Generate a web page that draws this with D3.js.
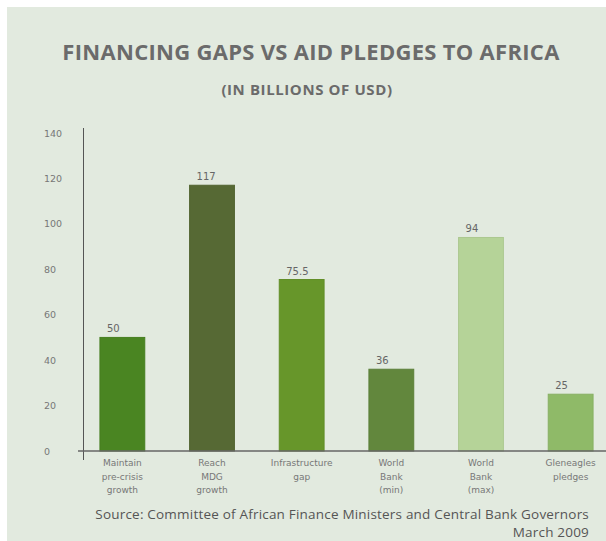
<!DOCTYPE html>
<html>
<head>
<meta charset="utf-8">
<script src="https://cdn.jsdelivr.net/npm/d3@7"></script>
<style>
  body { margin: 0; background: #fff; }
  svg { display: block; }
</style>
</head>
<body>
<div class="chartContainer"></div>
<script>
// chart data
var categories = ['Maintain pre-crisis growth', 'Reach MDG growth', 'Infrastructure gap',
                  'World Bank (min)', 'World Bank (max)', 'Gleneagles pledges'];
var catLines = [
    ['Maintain', 'pre-crisis', 'growth'],
    ['Reach', 'MDG', 'growth'],
    ['Infrastructure', 'gap'],
    ['World', 'Bank', '(min)'],
    ['World', 'Bank', '(max)'],
    ['Gleneagles', 'pledges']
];
var values = [50, 117, 75.5, 36, 94, 25];
var valueLabels = ['50', '117', '75.5', '36', '94', '25'];
var barColours = ['#4a8522', '#566934', '#67962a', '#62873d', '#b5d398', '#8fba68'];
var yTicks = [0, 20, 40, 60, 80, 100, 120, 140];

var width = 606;
var height = 541;

var svg = d3.select('.chartContainer')
            .append('svg')
              .attr('width', width)
              .attr('height', height);

// pale green panel
svg.append('rect')
    .attr('x', 7)
    .attr('y', 7)
    .attr('width', width - 7)
    .attr('height', height - 7)
    .attr('fill', '#e2eadf');

// titles
svg.append('text')
    .attr('x', 311)
    .attr('y', 60)
    .attr('text-anchor', 'middle')
    .attr('font-family', 'Open Sans')
    .attr('font-weight', 'bold')
    .attr('font-size', 22)
    .attr('letter-spacing', 0.3)
    .attr('fill', '#6b6b6b')
    .text('FINANCING GAPS VS AID PLEDGES TO AFRICA');

svg.append('text')
    .attr('x', 307)
    .attr('y', 95)
    .attr('text-anchor', 'middle')
    .attr('font-family', 'Open Sans')
    .attr('font-weight', 'bold')
    .attr('font-size', 15)
    .attr('letter-spacing', 0.6)
    .attr('fill', '#6b6b6b')
    .text('(IN BILLIONS OF USD)');

const xScale = d3.scaleBand()
                 .domain(categories)
                 .range([82, 611])
                 .paddingInner(0.5)
                 .paddingOuter(0.2);

const yScale = d3.scaleLinear()
                 .domain([0, 140])
                 .range([451, 133]);

// y tick labels (left aligned, no tick marks)
svg.append('g')
    .selectAll('text')
    .data(yTicks)
    .enter()
    .append('text')
      .attr('x', 44)
      .attr('y', (d) => yScale(d) + 3.5)
      .attr('font-family', 'DejaVu Sans')
      .attr('font-size', 9.5)
      .attr('fill', '#777')
      .text((d) => d);

// bars
svg.append('g')
    .selectAll('rect')
    .data(values)
    .enter()
    .append('rect')
      .attr('x', (d, i) => xScale(categories[i]))
      .attr('y', (d) => yScale(d))
      .attr('width', xScale.bandwidth())
      .attr('height', (d) => yScale(0) - yScale(d))
      .attr('fill', (d, i) => barColours[i])
      .attr('stroke', (d, i) => d3.color(barColours[i]).darker(0.15))
      .attr('stroke-width', 1);

// value labels above bars
svg.append('g')
    .selectAll('text')
    .data(values)
    .enter()
    .append('text')
      .attr('x', (d, i) => xScale(categories[i]) + 7)
      .attr('y', (d) => yScale(d) - 5)
      .attr('font-family', 'DejaVu Sans')
      .attr('font-size', 10)
      .attr('fill', '#666')
      .text((d, i) => valueLabels[i]);

// axes lines
svg.append('line')
    .attr('x1', 83.5).attr('x2', 83.5)
    .attr('y1', 128).attr('y2', 460)
    .attr('stroke', '#555')
    .attr('stroke-width', 1);

svg.append('line')
    .attr('x1', 78).attr('x2', 606)
    .attr('y1', yScale(0)).attr('y2', yScale(0))
    .attr('stroke', '#666')
    .attr('stroke-width', 1.5);

// category labels
const cats = svg.append('g')
    .selectAll('text')
    .data(categories)
    .enter()
    .append('text')
      .attr('text-anchor', 'middle')
      .attr('font-family', 'DejaVu Sans')
      .attr('font-size', 9)
      .attr('fill', '#777');

cats.each(function (d, i) {
    const t = d3.select(this);
    catLines[i].forEach((line, k) => {
        t.append('tspan')
         .attr('x', xScale(d) + xScale.bandwidth() / 2)
         .attr('y', 466 + k * 13.5)
         .text(line);
    });
});

// source note
svg.append('text')
    .attr('x', 589)
    .attr('y', 519)
    .attr('text-anchor', 'end')
    .attr('font-family', 'Open Sans')
    .attr('font-size', 13.5)
    .attr('letter-spacing', 0.2)
    .attr('fill', '#555')
    .text('Source: Committee of African Finance Ministers and Central Bank Governors');

svg.append('text')
    .attr('x', 589)
    .attr('y', 537)
    .attr('text-anchor', 'end')
    .attr('font-family', 'Open Sans')
    .attr('font-size', 13.5)
    .attr('letter-spacing', 0.2)
    .attr('fill', '#555')
    .text('March 2009');
</script>
</body>
</html>
